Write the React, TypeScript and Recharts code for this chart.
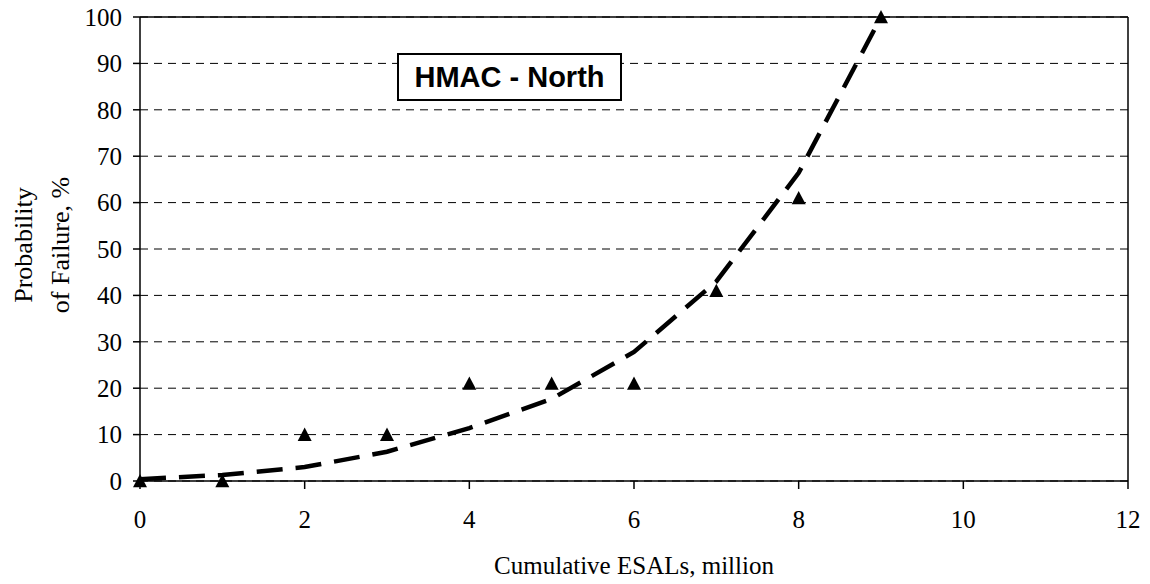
import React from 'react';
import { ComposedChart, Line, XAxis, YAxis, CartesianGrid, ReferenceLine } from 'recharts';

// cumulative ESALs (million)
const esals = [0, 1, 2, 3, 4, 5, 6, 7, 8, 9];
// observed probability of failure, %
const observed = [0, 0, 10, 10, 21, 21, 21, 41, 61, 100];
// fitted trend, %
const trend = [0.4, 1.3, 3.0, 6.3, 11.4, 17.7, 27.8, 43, 66.4, 100];

const xTicks = [0, 2, 4, 6, 8, 10, 12];
const yTicks = [0, 10, 20, 30, 40, 50, 60, 70, 80, 90, 100];

const chartData = esals.map((x, i) => ({ x, obs: observed[i], fit: trend[i] }));

const serif = '"Liberation Serif", "Times New Roman", serif';

const Triangle = (props: any) => {
  const { cx, cy } = props;
  if (cx == null || cy == null) return null;
  const s = 7;
  return (
    <path
      key={`tri-${props.index}`}
      d={`M${cx},${cy - s} L${cx + s},${cy + s * 0.9} L${cx - s},${cy + s * 0.9} Z`}
      fill="#000"
    />
  );
};

const YLabel = () => {
  const cy = 245;
  return (
    <g fontFamily={serif} fontSize={26} fill="#000">
      <text x={23} y={cy} transform={`rotate(-90 23 ${cy})`} textAnchor="middle" dominantBaseline="central">
        Probability
      </text>
      <text x={60} y={cy} transform={`rotate(-90 60 ${cy})`} textAnchor="middle" dominantBaseline="central">
        of Failure, %
      </text>
    </g>
  );
};

export default function App() {
  return (
    <div style={{ position: 'absolute', left: 0, top: 0, width: 1150, height: 584, background: '#fff' }}>
      <ComposedChart
        width={1150}
        height={584}
        data={chartData}
        margin={{ top: 17, right: 22, left: 0, bottom: 0 }}
      >
        <CartesianGrid horizontal vertical={false} stroke="#000" strokeDasharray="8 6" />
        <XAxis
          dataKey="x"
          type="number"
          domain={[0, 12]}
          ticks={xTicks}
          height={103}
          stroke="#000"
          strokeWidth={1.5}
          tickSize={8}
          tickMargin={21}
          tick={{ fontFamily: serif, fontSize: 25, fill: '#000' }}
          label={{ value: 'Cumulative ESALs, million', position: 'insideBottom', offset: 10, style: { fontFamily: serif, fontSize: 25, fill: '#000' } }}
        />
        <YAxis
          type="number"
          domain={[0, 100]}
          ticks={yTicks}
          width={140}
          stroke="#000"
          strokeWidth={1.5}
          tickSize={7}
          tickMargin={11}
          tick={{ fontFamily: serif, fontSize: 25, fill: '#000' }}
          label={<YLabel />}
        />
        <ReferenceLine y={100} stroke="#000" strokeWidth={1.5} />
        <ReferenceLine x={12} stroke="#000" strokeWidth={1.5} />
        <Line
          dataKey="fit"
          type="linear"
          stroke="#000"
          strokeWidth={4.5}
          strokeDasharray="26 13"
          dot={false}
          isAnimationActive={false}
        />
        <Line
          dataKey="obs"
          type="linear"
          stroke="none"
          dot={<Triangle />}
          activeDot={false}
          isAnimationActive={false}
        />
      </ComposedChart>
      <div
        style={{
          position: 'absolute',
          left: 397,
          top: 53,
          width: 225,
          height: 48,
          boxSizing: 'border-box',
          border: '2px solid #000',
          background: '#fff',
          display: 'flex',
          alignItems: 'center',
          justifyContent: 'center',
          fontFamily: '"Liberation Sans", Arial, sans-serif',
          fontWeight: 'bold',
          fontSize: 29,
          color: '#000',
        }}
      >
        HMAC - North
      </div>
    </div>
  );
}
